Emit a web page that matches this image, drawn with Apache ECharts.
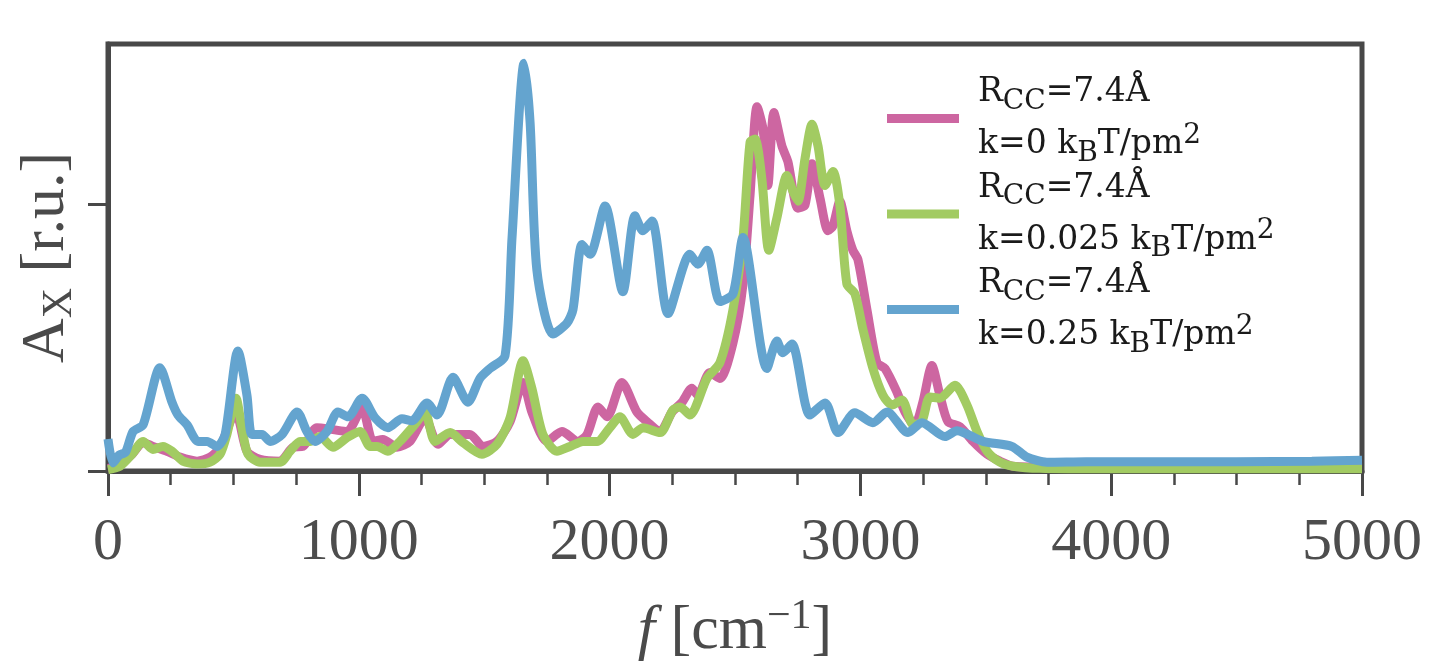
<!DOCTYPE html>
<html>
<head>
<meta charset="utf-8">
<title>A_X spectrum</title>
<script src="https://cdn.jsdelivr.net/npm/echarts@6.0.0/dist/echarts.min.js"></script>
<style>
    html, body { margin: 0; padding: 0; background: #fff; }
    #chart1 { width: 1433px; height: 668px; }
</style>
</head>
<body>
<div id="chart1"></div>
<script>
// k = 0 kBT/pm2
var freqK0 = [0, 40, 96, 140, 179, 235, 287, 355, 407, 447, 494, 512, 554, 606, 686, 738, 777, 833, 897, 953, 1013, 1057, 1096, 1152, 1204, 1264, 1316, 1364, 1443, 1495, 1551, 1603, 1655, 1690, 1750, 1810, 1874, 1910, 1954, 1990, 2049, 2109, 2149, 2201, 2249, 2289, 2328, 2352, 2400, 2440, 2492, 2532, 2560, 2588, 2612, 2631, 2655, 2687, 2711, 2751, 2779, 2807, 2839, 2871, 2891, 2918, 2946, 2970, 2990, 3026, 3066, 3098, 3146, 3178, 3217, 3249, 3285, 3317, 3349, 3397, 3449, 3505, 3556, 3608, 3688, 4000, 4500, 5000];
var ampK0 = [0.01, 0.02, 0.063, 0.107, 0.092, 0.074, 0.052, 0.037, 0.052, 0.089, 0.199, 0.21, 0.074, 0.044, 0.037, 0.089, 0.092, 0.162, 0.155, 0.148, 0.236, 0.111, 0.118, 0.089, 0.111, 0.199, 0.100, 0.137, 0.137, 0.092, 0.111, 0.185, 0.332, 0.221, 0.111, 0.148, 0.111, 0.137, 0.240, 0.203, 0.332, 0.221, 0.185, 0.148, 0.221, 0.258, 0.310, 0.284, 0.369, 0.347, 0.480, 0.701, 1.033, 1.365, 1.280, 1.070, 1.343, 1.218, 1.159, 0.985, 0.996, 1.151, 1.022, 0.900, 0.919, 1.011, 0.900, 0.827, 0.793, 0.605, 0.406, 0.384, 0.295, 0.221, 0.173, 0.258, 0.395, 0.284, 0.185, 0.166, 0.111, 0.063, 0.037, 0.018, 0.015, 0.012, 0.012, 0.012];

// k = 0.025 kBT/pm2
var freqK0025 = [0, 48, 96, 140, 179, 219, 255, 299, 355, 407, 447, 474, 510, 534, 558, 606, 686, 726, 766, 805, 845, 897, 953, 1005, 1045, 1073, 1116, 1164, 1216, 1264, 1304, 1364, 1415, 1491, 1551, 1603, 1655, 1690, 1734, 1790, 1842, 1894, 1950, 2001, 2041, 2093, 2133, 2201, 2253, 2281, 2320, 2388, 2440, 2492, 2532, 2560, 2580, 2607, 2635, 2667, 2707, 2731, 2751, 2779, 2807, 2831, 2859, 2891, 2918, 2946, 2978, 3010, 3050, 3090, 3126, 3166, 3210, 3245, 3277, 3317, 3377, 3425, 3465, 3505, 3556, 3608, 3716, 4000, 4500, 5000];
var ampK0025 = [0.005, 0.018, 0.063, 0.111, 0.081, 0.092, 0.074, 0.037, 0.026, 0.033, 0.063, 0.137, 0.273, 0.162, 0.063, 0.033, 0.033, 0.074, 0.111, 0.111, 0.129, 0.089, 0.125, 0.148, 0.092, 0.092, 0.074, 0.111, 0.166, 0.218, 0.111, 0.144, 0.107, 0.063, 0.100, 0.199, 0.413, 0.310, 0.137, 0.074, 0.092, 0.111, 0.111, 0.162, 0.203, 0.137, 0.162, 0.144, 0.229, 0.240, 0.210, 0.347, 0.406, 0.605, 0.875, 1.232, 1.244, 1.096, 0.827, 0.948, 1.107, 1.048, 1.011, 1.170, 1.299, 1.218, 1.070, 1.122, 0.996, 0.701, 0.664, 0.531, 0.384, 0.284, 0.247, 0.266, 0.173, 0.185, 0.277, 0.273, 0.321, 0.247, 0.148, 0.074, 0.033, 0.018, 0.010, 0.008, 0.008, 0.008];

// k = 0.25 kBT/pm2
var freqK025 = [0, 20, 45, 70, 100, 140, 207, 255, 279, 315, 359, 395, 435, 467, 518, 554, 574, 614, 646, 694, 754, 793, 825, 873, 917, 957, 1013, 1065, 1116, 1172, 1212, 1272, 1312, 1376, 1435, 1483, 1523, 1583, 1611, 1659, 1683, 1710, 1774, 1830, 1854, 1890, 1922, 1982, 2053, 2101, 2133, 2169, 2233, 2320, 2352, 2388, 2440, 2492, 2532, 2627, 2667, 2691, 2727, 2799, 2859, 2911, 2978, 3050, 3106, 3190, 3245, 3337, 3385, 3489, 3604, 3664, 3744, 3900, 4200, 4500, 4800, 5000];
var ampK025 = [0.12, 0.03, 0.06, 0.07, 0.148, 0.173, 0.387, 0.258, 0.210, 0.173, 0.111, 0.111, 0.092, 0.137, 0.450, 0.284, 0.137, 0.137, 0.111, 0.137, 0.221, 0.148, 0.111, 0.148, 0.221, 0.203, 0.273, 0.199, 0.162, 0.196, 0.188, 0.255, 0.210, 0.351, 0.258, 0.347, 0.384, 0.432, 0.875, 1.528, 1.306, 0.753, 0.513, 0.554, 0.605, 0.849, 0.812, 0.993, 0.672, 0.956, 0.900, 0.937, 0.590, 0.812, 0.775, 0.827, 0.635, 0.664, 0.875, 0.384, 0.487, 0.443, 0.476, 0.210, 0.255, 0.144, 0.218, 0.181, 0.221, 0.144, 0.181, 0.129, 0.151, 0.111, 0.092, 0.052, 0.033, 0.035, 0.035, 0.035, 0.037, 0.04];

var kLabels = ['0', '0.025', '0.25'];
var seriesNames = ['k0', 'k0025', 'k025'];
var colors = ['#cd66a1', '#a2cb62', '#64a4cf'];
var yTickValues = [0, 1];

function zip(f, a){
    var out = [];
    for (var i = 0; i < f.length; i++) out.push([f[i], a[i]]);
    return out;
}
var seriesData = [zip(freqK0, ampK0), zip(freqK0025, ampK0025), zip(freqK025, ampK025)];

var frameColor = '#484848';
var serif = '"Liberation Serif", "DejaVu Serif", serif';
var legendFont = '"DejaVu Serif", "Liberation Serif", serif';

var chart1 = echarts.init(document.getElementById('chart1'));
var series = [];
for (var s = 0; s < 3; s++) {
    series.push({
        name: seriesNames[s],
        type: 'line',
        data: seriesData[s],
        showSymbol: false,
        smooth: 0.25,
        color: colors[s],
        lineStyle: { width: 9, color: colors[s] },
        z: 2 + s
    });
}

var option1 = {
    animation: false,
    grid: {
        show: true,
        left: 108,
        right: 71,
        top: 44,
        bottom: 191,
        borderColor: frameColor,
        borderWidth: 5
    },
    legend: {
        data: seriesNames,
        orient: 'vertical',
        left: 887,
        top: 76,
        padding: 0,
        itemGap: 1,
        itemWidth: 72,
        itemHeight: 9,
        icon: 'rect',
        formatter: function(name){
            var k = kLabels[seriesNames.indexOf(name)];
            return '{m|R}{sub|CC}{m|=7.4Å}\n{m|k=' + k + ' k}{sub|B}{m|T/pm}{sup|2}';
        },
        textStyle: {
            padding: [0, 0, 0, 14],
            rich: {
                m: { fontFamily: legendFont, fontSize: 33, lineHeight: 52, color: '#1a1a1a' },
                sub: { fontFamily: legendFont, fontSize: 28, lineHeight: 28, padding: [0, 0, 3, 0], verticalAlign: 'bottom', color: '#1a1a1a' },
                sup: { fontFamily: legendFont, fontSize: 28, lineHeight: 28, padding: [3, 0, 0, 0], verticalAlign: 'top', color: '#1a1a1a' }
            }
        }
    },
    xAxis: {
        type: 'value',
        min: 0,
        max: 5000,
        interval: 1000,
        name: '{i|f}{m| [cm}{sup|−1}{m|]}',
        nameLocation: 'middle',
        nameGap: 125,
        nameTextStyle: {
            rich: {
                i: { fontFamily: serif, fontStyle: 'italic', fontSize: 62, lineHeight: 72, color: '#4a4a4a' },
                m: { fontFamily: serif, fontSize: 62, lineHeight: 72, color: '#4a4a4a' },
                sup: { fontFamily: serif, fontSize: 42, lineHeight: 42, verticalAlign: 'top', color: '#4a4a4a' }
            }
        },
        axisLine: { show: true, onZero: false, lineStyle: { color: frameColor, width: 5 } },
        axisTick: { show: true, inside: false, length: 25, lineStyle: { color: frameColor, width: 3 } },
        minorTick: { show: true, splitNumber: 4, length: 14, lineStyle: { color: frameColor, width: 2.5 } },
        axisLabel: {
            fontFamily: serif, fontSize: 60, color: '#4d4d4d', margin: 42,
            formatter: function(v){ return String(v); }
        },
        splitLine: { show: false }
    },
    yAxis: {
        type: 'value',
        min: 0,
        max: 1.6,
        name: '{m|A}{sub|X}{m| [r.u.]}',
        nameLocation: 'middle',
        nameGap: 25,
        nameTextStyle: {
            rich: {
                m: { fontFamily: serif, fontSize: 62, lineHeight: 72, color: '#4a4a4a' },
                sub: { fontFamily: serif, fontSize: 42, lineHeight: 42, padding: [0, 0, 2, 0], verticalAlign: 'bottom', color: '#4a4a4a' }
            }
        },
        axisLine: { show: true, onZero: false, lineStyle: { color: frameColor, width: 5 } },
        axisTick: { show: true, inside: false, length: 20, customValues: yTickValues, lineStyle: { color: frameColor, width: 3 } },
        axisLabel: { show: false },
        splitLine: { show: false }
    },
    series: series
};
chart1.setOption(option1);

window.onresize = function(){
    chart1.resize();
};
</script>
</body>
</html>
